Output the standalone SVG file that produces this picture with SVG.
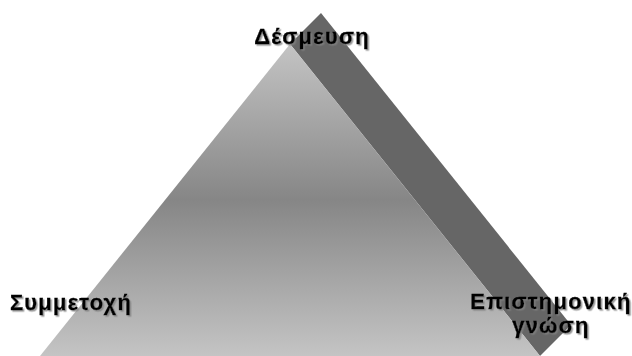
<svg xmlns="http://www.w3.org/2000/svg" width="632" height="356" viewBox="0 0 632 356">
<defs>
<linearGradient id="frontGrad" x1="0" y1="44" x2="0" y2="356" gradientUnits="userSpaceOnUse">
<stop offset="0" stop-color="#c4c4c4"/>
<stop offset="0.5" stop-color="#868686"/>
<stop offset="1" stop-color="#c4c4c4"/>
</linearGradient>
<filter id="shadow" x="-10%" y="-30%" width="120%" height="160%">
<feDropShadow dx="1.5" dy="1.5" stdDeviation="0.6" flood-color="#808080" flood-opacity="0.8"/>
</filter>
<style>
.lbl{font-family:"Liberation Sans",Arial,sans-serif;font-weight:bold;font-size:22px;letter-spacing:1.2px;fill:#000;stroke:#000;stroke-width:0.3px;text-anchor:middle;filter:url(#shadow)}
</style>
</defs>
<g id="pyramid">
<polygon id="side" points="290,44 321,13 571,325 540,356" fill="#666666"/>
<polygon id="front" points="290,44 40,356 540,356" fill="url(#frontGrad)"/>
</g>
<g id="node-desmeusi">
<text class="lbl" x="312" y="44">Δέσμευση</text>
</g>
<g id="node-symmetochi">
<text class="lbl" x="71" y="310">Συμμετοχή</text>
</g>
<g id="node-episthmonikh">
<text class="lbl" x="551" y="309"><tspan x="551" y="309">Επιστημονική</tspan><tspan x="551" y="333">γνώση</tspan></text>
</g>
<g id="connectors"/>
</svg>
